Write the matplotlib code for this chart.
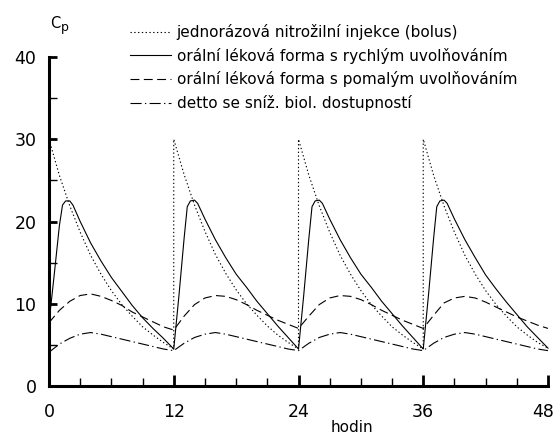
import matplotlib
matplotlib.use("Agg")
import matplotlib.pyplot as plt
import matplotlib.transforms as mtransforms

plt.rcParams['font.family'] = ['DejaVu Sans']

# bolus i.v. injection (dotted), jumps back to 30 at every dose
bolus_t = [0, 1, 2, 3, 4, 5, 6, 7, 8, 9, 10, 11, 12,
           12, 13, 14, 15, 16, 17, 18, 19, 20, 21, 22, 23, 24,
           24, 25, 26, 27, 28, 29, 30, 31, 32, 33, 34, 35, 36,
           36, 37, 38, 39, 40, 41, 42, 43, 44, 45, 46, 47, 48]
bolus_c = [30, 25.6, 21.9, 18.7, 15.9, 13.6, 11.6, 9.9, 8.5, 7.2, 6.2, 5.3, 4.5,
           30, 25.7, 22.0, 18.8, 16.0, 13.7, 11.7, 10.0, 8.6, 7.3, 6.2, 5.3, 4.5,
           30, 25.6, 21.9, 18.7, 15.9, 13.6, 11.6, 9.9, 8.5, 7.2, 6.2, 5.3, 4.5,
           30, 25.6, 21.9, 18.7, 15.9, 13.6, 11.6, 9.9, 8.5, 7.2, 6.2, 5.3, 4.6]

# fast release oral form (solid)
fast_t = [0, 0.5, 1.0, 1.3, 1.6, 2.0, 2.3, 3, 4, 5, 6, 7, 8, 9, 10, 11, 12,
          12.5, 13.0, 13.3, 13.6, 14.0, 14.3, 15, 16, 17, 18, 19, 20, 21, 22, 23, 24,
          24.5, 25.0, 25.3, 25.6, 26.0, 26.3, 27, 28, 29, 30, 31, 32, 33, 34, 35, 36,
          36.5, 37.0, 37.3, 37.6, 38.0, 38.3, 39, 40, 41, 42, 43, 44, 45, 46, 47, 48]
fast_c = [7.7, 13.5, 19.5, 22.0, 22.5, 22.5, 22.0, 20.0, 17.4, 15.2, 13.2, 11.5, 9.8, 8.3, 7.0, 5.8, 4.5,
          11, 18, 21.8, 22.5, 22.6, 22.2, 20.3, 17.8, 15.6, 13.6, 12.0, 10.3, 8.8, 7.3, 5.9, 4.5,
          11, 18, 21.8, 22.5, 22.6, 22.2, 20.3, 17.8, 15.6, 13.6, 12.0, 10.3, 8.8, 7.3, 5.9, 4.5,
          11, 18, 21.8, 22.5, 22.6, 22.2, 20.3, 17.8, 15.6, 13.5, 11.8, 10.2, 8.7, 7.2, 5.9, 4.6]

# slow release oral form (dashed)
slow_t = [0, 1, 2, 3, 4, 5, 6, 7, 8, 9, 10, 11, 12,
          13, 14, 15, 16, 17, 18, 19, 20, 21, 22, 23, 24,
          25, 26, 27, 28, 29, 30, 31, 32, 33, 34, 35, 36,
          37, 38, 39, 40, 41, 42, 43, 44, 45, 46, 47, 48]
slow_c = [7.7, 9.2, 10.3, 11.0, 11.2, 10.9, 10.4, 9.8, 9.0, 8.4, 7.8, 7.2, 6.8,
          8.5, 9.9, 10.7, 11.0, 10.9, 10.5, 9.9, 9.2, 8.6, 8.0, 7.5, 7.0,
          8.5, 9.9, 10.7, 11.0, 10.9, 10.5, 9.9, 9.2, 8.6, 8.0, 7.5, 7.0,
          8.6, 10.1, 10.7, 10.9, 10.7, 10.2, 9.6, 9.0, 8.4, 7.9, 7.4, 7.0]

# same with reduced bioavailability (dash-dot)
low_t = slow_t
low_c = [4.1, 5.1, 5.8, 6.3, 6.5, 6.3, 6.0, 5.7, 5.4, 5.1, 4.8, 4.5, 4.3,
         5.2, 5.9, 6.3, 6.5, 6.3, 6.0, 5.7, 5.4, 5.1, 4.8, 4.5, 4.3,
         5.2, 5.9, 6.3, 6.5, 6.3, 6.0, 5.7, 5.4, 5.1, 4.8, 4.5, 4.3,
         5.2, 5.9, 6.3, 6.5, 6.3, 6.0, 5.7, 5.4, 5.1, 4.8, 4.5, 4.3]

labels = ["jednorázová nitrožilní injekce (bolus)",
          "orální léková forma s rychlým uvolňováním",
          "orální léková forma s pomalým uvolňováním",
          "detto se sníž. biol. dostupností"]
x_ticks = [0, 12, 24, 36, 48]
y_ticks = [0, 10, 20, 30, 40]

fig = plt.figure(figsize=(5.55, 4.37), dpi=100)
ax = fig.add_axes([49 / 555, 1 - 386 / 437, 499 / 555, 329 / 437])

lw = 0.8
ax.plot(bolus_t, bolus_c, color='black', lw=lw, linestyle=(0, (1.2, 2.2)), label=labels[0], clip_on=False)
ax.plot(fast_t, fast_c, color='black', lw=lw, linestyle='-', label=labels[1], clip_on=False)
ax.plot(slow_t, slow_c, color='black', lw=lw, linestyle=(0, (8, 4)), label=labels[2], clip_on=False)
ax.plot(low_t, low_c, color='black', lw=lw, linestyle=(0, (10, 3, 1.2, 3)), label=labels[3], clip_on=False)

ax.set_xlim(0, 48)
ax.set_ylim(0, 40)
for s in ['top', 'right']:
    ax.spines[s].set_visible(False)
for s in ['left', 'bottom']:
    ax.spines[s].set_linewidth(2.2)

ax.set_xticks(x_ticks)
ax.set_xticks(range(0, 49, 3), minor=True)
ax.set_yticks(y_ticks)
ax.set_yticks(range(5, 40, 10), minor=True)
ax.tick_params(axis='x', which='major', direction='in', length=8, width=2, labelsize=12.5, pad=12)
ax.tick_params(axis='x', which='minor', direction='in', length=5.5, width=1)
ax.tick_params(axis='y', which='major', direction='in', length=6, width=2, labelsize=12.5, pad=9)
ax.tick_params(axis='y', which='minor', direction='in', length=6, width=1)

# last x label sits a little left of its tick, as in the original
last = ax.get_xticklabels()[-1]
last.set_transform(last.get_transform() + mtransforms.ScaledTranslation(-5 / 100, 0, fig.dpi_scale_trans))

fig.text(50 / 555, 1 - 24 / 437, "C", fontsize=10.5, va='center', ha='left')
fig.text(61 / 555, 1 - 28 / 437, "p", fontsize=9, va='center', ha='left')
fig.text(352 / 555, 1 - 428 / 437, "hodin", fontsize=11, va='center', ha='center')

ax.legend(loc='upper left', bbox_to_anchor=(130 / 555, 1 - 24 / 437), bbox_transform=fig.transFigure,
          frameon=False, fontsize=11, handlelength=2.7, handletextpad=0.35, labelspacing=0.5,
          borderpad=0, borderaxespad=0)

fig.savefig("out.png", dpi=100)
